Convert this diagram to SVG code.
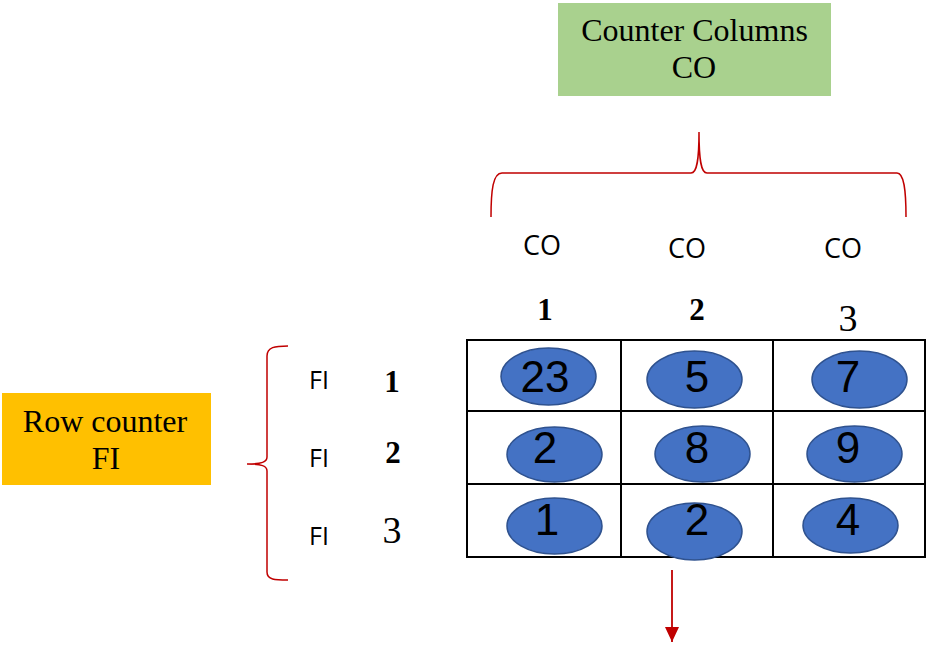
<svg xmlns="http://www.w3.org/2000/svg" width="926" height="653" viewBox="0 0 926 653">
<style>
.box{stroke:none}
.serif{font-family:"Liberation Serif","DejaVu Serif",serif;fill:#000}
.sans{font-family:"Open Sans","Liberation Sans",sans-serif;fill:#000}
.num{font-family:"Liberation Serif","DejaVu Serif",serif;font-size:31px;font-weight:bold;fill:#000;text-anchor:middle}
.big{font-size:38px;font-weight:normal}
.cell{font-family:"Liberation Sans",Arial,sans-serif;font-size:44px;fill:#000;text-anchor:middle}
.ell{fill:#4472c4;stroke:#2f528f;stroke-width:1.5}
.brace{fill:none;stroke:#c00000;stroke-width:1.5}
.grid{fill:none;stroke:#000;stroke-width:2}
</style>
<defs>
<marker id="ah" markerWidth="16" markerHeight="14" refX="7.5" refY="0" viewBox="0 0 16 14" markerUnits="userSpaceOnUse" orient="auto" overflow="visible">
<path d="M0,-7 L15,0 L0,7 Z" fill="#c00000" transform="translate(-7.5,0)"/>
</marker>
</defs>
<rect width="926" height="653" fill="#fff"/>

<g id="counter-columns">
<rect class="box" x="558" y="3" width="273" height="93" fill="#a9d18e"/>
<text class="serif" x="694.5" y="41" font-size="32" text-anchor="middle">Counter Columns</text>
<text class="serif" x="694" y="78" font-size="32" text-anchor="middle">CO</text>
</g>

<g id="row-counter">
<rect class="box" x="2" y="393" width="209" height="92" fill="#ffc000"/>
<text class="serif" x="105" y="432" font-size="32" text-anchor="middle">Row counter</text>
<text class="serif" x="106" y="469" font-size="32" text-anchor="middle">FI</text>
</g>

<g id="column-labels">
<text class="sans" x="542" y="255" font-size="27" text-anchor="middle">CO</text>
<text class="sans" x="687" y="258" font-size="27" text-anchor="middle">CO</text>
<text class="sans" x="843" y="258" font-size="27" text-anchor="middle">CO</text>
<text class="num" x="545" y="320">1</text>
<text class="num" x="697" y="320">2</text>
<text class="num big" x="848" y="331">3</text>
</g>

<g id="row-labels">
<text class="sans" x="319" y="389" font-size="25" text-anchor="middle">FI</text>
<text class="sans" x="319" y="467" font-size="25" text-anchor="middle">FI</text>
<text class="sans" x="319" y="545" font-size="25" text-anchor="middle">FI</text>
<text class="num" x="392" y="392">1</text>
<text class="num" x="393" y="463">2</text>
<text class="num big" x="392" y="543">3</text>
</g>

<g id="grid">
<rect class="grid" x="467" y="340" width="458" height="217"/>
<line class="grid" x1="621" y1="340" x2="621" y2="557"/>
<line class="grid" x1="773" y1="340" x2="773" y2="557"/>
<line class="grid" x1="467" y1="411" x2="925" y2="411"/>
<line class="grid" x1="467" y1="484" x2="925" y2="484"/>
</g>

<g id="cell-1-1"><ellipse class="ell" cx="548.5" cy="376.5" rx="47.5" ry="28.5"/><text class="cell" x="545" y="392">23</text></g>
<g id="cell-1-2"><ellipse class="ell" cx="694.5" cy="379.5" rx="47.5" ry="28.5"/><text class="cell" x="697" y="392">5</text></g>
<g id="cell-1-3"><ellipse class="ell" cx="859.5" cy="379.5" rx="47.5" ry="28.5"/><text class="cell" x="848" y="392">7</text></g>
<g id="cell-2-1"><ellipse class="ell" cx="554.5" cy="454.5" rx="47.5" ry="27.5"/><text class="cell" x="545" y="463">2</text></g>
<g id="cell-2-2"><ellipse class="ell" cx="702.5" cy="454" rx="47.5" ry="28"/><text class="cell" x="697" y="463">8</text></g>
<g id="cell-2-3"><ellipse class="ell" cx="854.5" cy="454" rx="47.5" ry="28"/><text class="cell" x="848" y="463">9</text></g>
<g id="cell-3-1"><ellipse class="ell" cx="554.5" cy="526" rx="47.5" ry="28"/><text class="cell" x="547" y="535">1</text></g>
<g id="cell-3-2"><ellipse class="ell" cx="694.5" cy="531.5" rx="47.5" ry="28.5"/><text class="cell" x="697" y="535">2</text></g>
<g id="cell-3-3"><ellipse class="ell" cx="850.5" cy="525.5" rx="47.5" ry="27.5"/><text class="cell" x="848" y="535">4</text></g>

<g id="connectors">
<path class="brace" d="M491,217 C491,190 493,173 502,173 L691,173 C697,173 699,160 699,132 C699,160 701,173 707,173 L897,173 C904,173 906,190 906,217"/>
<path class="brace" d="M288,346 C275,346 267,347 267,356 L267,457 C267,462 262,464 247,464 C262,464 267,466 267,471 L267,572 C267,580 275,580 288,580"/>
<line x1="672" y1="570" x2="672" y2="642" stroke="#c00000" stroke-width="1.8" marker-end="url(#ah)"/>
</g>
</svg>
